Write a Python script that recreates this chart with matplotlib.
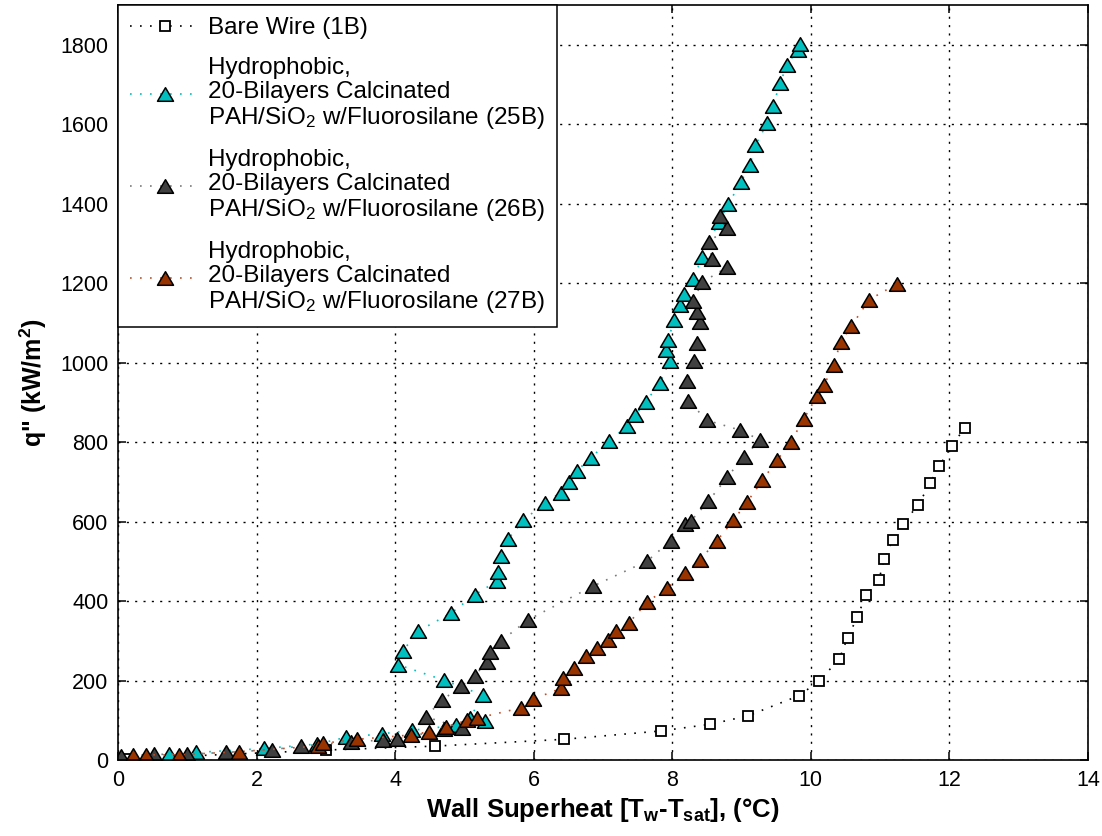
import matplotlib
matplotlib.use("Agg")
import matplotlib.pyplot as plt
from matplotlib.path import Path

plt.rcParams['font.family'] = ['Liberation Sans', 'DejaVu Sans']
plt.rcParams['mathtext.default'] = 'regular'

# Bare wire (1B)
bare_x = [0.10, 3.00, 4.58, 6.43, 7.83, 8.55, 9.09, 9.83, 10.12, 10.41, 10.53, 10.67,
          10.79, 10.98, 11.06, 11.18, 11.33, 11.55, 11.72, 11.85, 12.03, 12.22]
bare_q = [3, 25, 35, 52, 73, 90, 111, 162, 199, 254, 308, 359,
          414, 452, 506, 553, 595, 642, 696, 739, 789, 836]

# Coated wire 25B
s25_x = [0.74, 1.13, 2.11, 2.87, 3.29, 3.81, 4.25, 4.88, 5.29, 5.08, 5.27, 4.70, 4.04,
         4.11, 4.33, 4.81, 5.15, 5.47, 5.49, 5.53, 5.63, 5.85, 6.16, 6.39, 6.51, 6.62,
         6.82, 7.09, 7.35, 7.46, 7.62, 7.82, 7.96, 7.91, 7.94, 8.03, 8.11, 8.17, 8.30,
         8.43, 8.67, 8.81, 8.99, 9.12, 9.20, 9.37, 9.45, 9.56, 9.65, 9.81, 9.84]
s25_q = [15, 19, 29, 40, 57, 66, 75, 87, 97, 106, 163, 201, 240,
         274, 324, 370, 416, 450, 473, 513, 556, 603, 647, 673, 700, 727,
         760, 803, 840, 867, 902, 949, 1003, 1031, 1058, 1108, 1146, 1172, 1210,
         1265, 1355, 1399, 1455, 1497, 1547, 1603, 1647, 1703, 1750, 1786, 1803]

# Coated wire 26B
s26_x = [0.05, 0.52, 1.00, 1.56, 2.22, 2.64, 3.37, 3.83, 4.03, 4.71, 4.96, 4.44, 4.68,
         4.95, 5.15, 5.32, 5.37, 5.53, 5.92, 6.85, 7.64, 7.98, 8.18, 8.27, 8.52, 8.79,
         9.03, 9.27, 8.98, 8.50, 8.23, 8.21, 8.32, 8.35, 8.40, 8.35, 8.30, 8.43, 8.79,
         8.57, 8.53, 8.79, 8.69]
s26_q = [10, 14, 15, 19, 26, 35, 46, 50, 53, 77, 80, 109, 151,
         185, 212, 247, 273, 300, 353, 437, 501, 552, 595, 602, 651, 711,
         763, 805, 830, 855, 904, 953, 1003, 1050, 1101, 1128, 1156, 1202, 1240,
         1262, 1304, 1339, 1370]

# Coated wire 27B
s27_x = [0.22, 0.40, 0.88, 1.75, 2.88, 2.96, 3.45, 4.23, 4.49, 4.74, 5.04, 5.18, 5.81,
         5.99, 6.39, 6.42, 6.58, 6.76, 6.91, 7.07, 7.19, 7.38, 7.64, 7.93, 8.18, 8.40,
         8.64, 8.88, 9.08, 9.30, 9.51, 9.71, 9.90, 10.09, 10.19, 10.33, 10.43, 10.58,
         10.84, 11.24]
s27_q = [13, 13, 13, 21, 35, 42, 52, 63, 71, 84, 100, 105, 131,
         153, 180, 207, 232, 262, 283, 303, 325, 346, 398, 433, 471, 504,
         551, 603, 649, 704, 754, 800, 859, 916, 943, 995, 1052, 1091,
         1158, 1198]

coating = "Hydrophobic,\n20-Bilayers Calcinated\nPAH/SiO$_2$ w/Fluorosilane"
labels = ["Bare Wire (1B)", coating + " (25B)", coating + " (26B)", coating + " (27B)"]

x_ticks = list(range(0, 15, 2))
q_ticks = list(range(0, 1801, 200))

# wide, slightly flattened triangle marker
tri = Path([(-1.0, -0.85), (1.0, -0.85), (0.0, 0.85), (-1.0, -0.85)],
           [Path.MOVETO, Path.LINETO, Path.LINETO, Path.CLOSEPOLY])

fig = plt.figure(figsize=(11.02, 8.36), dpi=100)
ax = fig.add_axes([118 / 1102, 76 / 836, (1088 - 118) / 1102, 755 / 836])

dots = (0, (1, 5))
ax.plot(bare_x, bare_q, linestyle=dots, color='black', lw=1.2,
        marker='s', ms=6.5, mfc='white', mec='black', mew=1.3, label=labels[0])
ax.plot(s25_x, s25_q, linestyle=dots, color='#00bfbf', lw=1.2,
        marker=tri, ms=11.5, mfc='#00bfbf', mec='black', mew=1.1, label=labels[1])
ax.plot(s26_x, s26_q, linestyle=dots, color='#7a7a7a', lw=1.2,
        marker=tri, ms=11.5, mfc='#404040', mec='black', mew=1.1, label=labels[2])
ax.plot(s27_x, s27_q, linestyle=dots, color='#c0502a', lw=1.2,
        marker=tri, ms=11.5, mfc='#993300', mec='black', mew=1.1, label=labels[3])

ax.set_xlim(0, 14)
ax.set_ylim(0, 1900)
ax.set_xticks(x_ticks)
ax.set_yticks(q_ticks)
ax.tick_params(direction='in', length=6, width=1.1, top=True, right=True,
               labelsize=15.5, pad=7)
ax.grid(True, color='black', linestyle=(0, (1.5, 4.5)), lw=1.0)
for sp in ax.spines.values():
    sp.set_linewidth(1.2)

ax.set_xlabel("Wall Superheat [T$_{w}$-T$_{sat}$], (\u00b0C)", fontsize=18.5,
              fontweight='bold', labelpad=4)
ax.set_ylabel('q" (kW/m$^{2}$)', fontsize=18, fontweight='bold', labelpad=8)

leg = ax.legend(loc='upper left', borderaxespad=0, fontsize=17.5, frameon=True,
                fancybox=False, framealpha=1, edgecolor='black',
                handlelength=2.85, handletextpad=0.35, borderpad=0.5,
                labelspacing=0.75)
leg.get_frame().set_linewidth(1.1)
for t in leg.get_texts():
    t.set_linespacing(1.10)

fig.savefig("out.png", dpi=100)
